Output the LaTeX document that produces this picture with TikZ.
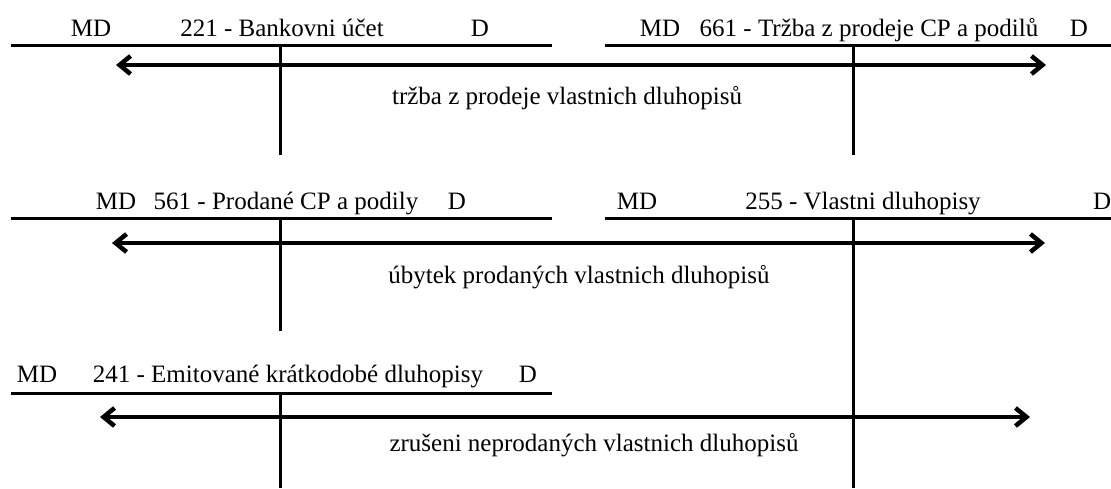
\documentclass[tikz,border=0pt]{standalone}
\usepackage{fontspec}
\setmainfont{Liberation Serif}
\usetikzlibrary{arrows.meta}

\begin{document}
\begin{tikzpicture}[x=1pt,y=-1pt,
  tline/.style={line width=3pt},
  flow/.style={line width=4.5pt,{Straight Barb[length=11pt,width=18pt]}-{Straight Barb[length=11pt,width=18pt]}},
  lab/.style={anchor=base,inner sep=0pt,font=\fontsize{25}{30}\selectfont}]
\useasboundingbox (0,0) rectangle (1111,488);
% 221 - Bankovni ucet
\coordinate (bank-l) at (11,45);
\coordinate (bank-r) at (552,45);
\coordinate (bank-t) at (280,45);
\coordinate (bank-b) at (280,155);
\draw[tline] (bank-l) -- (bank-r);
\draw[tline] (bank-t) -- (bank-b);
\node[lab] (bank-md) at (91,36) {MD};
\node[lab] (bank-name) at (282,36) {221 - Bankovni účet};
\node[lab] (bank-d) at (480,36) {D};
% 661 - Trzba z prodeje CP a podilu
\coordinate (trzba-l) at (605,45);
\coordinate (trzba-r) at (1111,45);
\coordinate (trzba-t) at (853,45);
\coordinate (trzba-b) at (853,155);
\draw[tline] (trzba-l) -- (trzba-r);
\draw[tline] (trzba-t) -- (trzba-b);
\node[lab] (trzba-md) at (660,36) {MD};
\node[lab] (trzba-name) at (869,36) {661 - Tržba z prodeje CP a podilů};
\node[lab] (trzba-d) at (1079,36) {D};
% 561 - Prodane CP a podily
\coordinate (prod-l) at (11,218);
\coordinate (prod-r) at (552,218);
\coordinate (prod-t) at (280,218);
\coordinate (prod-b) at (280,331);
\draw[tline] (prod-l) -- (prod-r);
\draw[tline] (prod-t) -- (prod-b);
\node[lab] (prod-md) at (116,209) {MD};
\node[lab] (prod-name) at (286,209) {561 - Prodané CP a podily};
\node[lab] (prod-d) at (457,209) {D};
% 255 - Vlastni dluhopisy
\coordinate (vlast-l) at (605,218);
\coordinate (vlast-r) at (1111,218);
\coordinate (vlast-t) at (853,218);
\coordinate (vlast-b) at (853,488);
\draw[tline] (vlast-l) -- (vlast-r);
\draw[tline] (vlast-t) -- (vlast-b);
\node[lab] (vlast-md) at (637,209) {MD};
\node[lab] (vlast-name) at (863,209) {255 - Vlastni dluhopisy};
\node[lab,anchor=base west] (vlast-d) at (1093,209) {D};
% 241 - Emitovane kratkodobe dluhopisy
\coordinate (emit-l) at (11,393);
\coordinate (emit-r) at (552,393);
\coordinate (emit-t) at (280,393);
\coordinate (emit-b) at (280,488);
\draw[tline] (emit-l) -- (emit-r);
\draw[tline] (emit-t) -- (emit-b);
\node[lab] (emit-md) at (37,382) {MD};
\node[lab] (emit-name) at (288,382) {241 - Emitované krátkodobé dluhopisy};
\node[lab] (emit-d) at (528,382) {D};
% Flows
\coordinate (f1-l) at (116,65);
\coordinate (f1-r) at (1046,65);
\draw[flow] (f1-l) -- (f1-r);
\node[lab] (f1-text) at (567,104) {tržba z prodeje vlastnich dluhopisů};
\coordinate (f2-l) at (112,243);
\coordinate (f2-r) at (1045,243);
\draw[flow] (f2-l) -- (f2-r);
\node[lab] (f2-text) at (579,283) {úbytek prodaných vlastnich dluhopisů};
\coordinate (f3-l) at (100,417);
\coordinate (f3-r) at (1030,417);
\draw[flow] (f3-l) -- (f3-r);
\node[lab] (f3-text) at (594,451) {zrušeni neprodaných vlastnich dluhopisů};
\end{tikzpicture}
\end{document}
